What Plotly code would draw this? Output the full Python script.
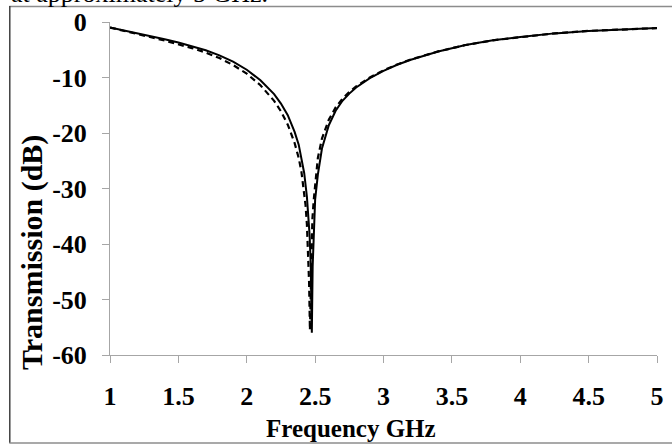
import plotly.graph_objects as go

# ---- data ----
freq_solid = [1.00, 1.10, 1.20, 1.30, 1.40, 1.50, 1.60, 1.70, 1.80, 1.90, 2.00, 2.10, 2.20, 2.25,
              2.30, 2.35, 2.38, 2.40, 2.42, 2.44, 2.45, 2.46, 2.468, 2.476, 2.482, 2.49, 2.50,
              2.52, 2.55, 2.60, 2.65, 2.70, 2.75, 2.80, 2.90, 3.00, 3.10, 3.20, 3.40, 3.60, 3.80,
              4.00, 4.25, 4.50, 4.75, 5.00]
trans_solid = [-1.0, -1.5, -2.0, -2.55, -3.1, -3.7, -4.35, -5.1, -6.0, -7.15, -8.6, -10.5, -13.0, -14.7,
               -16.8, -19.8, -22.1, -24.4, -27.2, -31.5, -34.5, -38.5, -44.0, -56.0, -44.0, -37.0, -32.0,
               -27.5, -22.8, -18.6, -16.0, -14.2, -12.9, -11.8, -10.1, -8.8, -7.7, -6.8, -5.3, -4.15, -3.3,
               -2.7, -2.05, -1.6, -1.3, -1.1]

freq_dashed = [1.00, 1.10, 1.20, 1.30, 1.40, 1.50, 1.60, 1.70, 1.80, 1.90, 2.00, 2.10, 2.20, 2.25,
               2.30, 2.35, 2.38, 2.40, 2.42, 2.43, 2.44, 2.45, 2.456, 2.462, 2.468, 2.475, 2.48,
               2.49, 2.50, 2.52, 2.55, 2.60, 2.65, 2.70, 2.75, 2.80, 2.90, 3.00, 3.10, 3.20, 3.40,
               3.60, 3.80, 4.00, 4.25, 4.50, 4.75, 5.00]
trans_dashed = [-1.0, -1.55, -2.15, -2.75, -3.35, -4.0, -4.7, -5.5, -6.5, -7.75, -9.3, -11.4, -14.2, -16.1,
                -18.5, -21.8, -24.5, -27.0, -30.5, -33.0, -36.5, -41.5, -47.0, -55.5, -46.0, -39.5, -35.5,
                -32.0, -29.0, -24.5, -21.0, -17.6, -15.4, -13.8, -12.6, -11.6, -10.0, -8.7, -7.65, -6.75, -5.3,
                -4.15, -3.3, -2.7, -2.05, -1.6, -1.3, -1.1]

x_tick_vals = [1, 1.5, 2, 2.5, 3, 3.5, 4, 4.5, 5]
x_tick_text = ["1", "1.5", "2", "2.5", "3", "3.5", "4", "4.5", "5"]
y_tick_vals = [0, -10, -20, -30, -40, -50, -60]
y_tick_text = ["0", "-10", "-20", "-30", "-40", "-50", "-60"]

x_title = "Frequency GHz"
y_title = "Transmission (dB)"
caption_fragment = "at approximately 5 GHz."

FONT = "Liberation Serif"
AXIS_GRAY = "#a6a6a6"

fig = go.Figure()
fig.add_trace(go.Scatter(x=freq_dashed, y=trans_dashed, mode="lines",
                         line=dict(color="black", width=2.2, dash="6px,4px"),
                         showlegend=False, hoverinfo="skip"))
fig.add_trace(go.Scatter(x=freq_solid, y=trans_solid, mode="lines",
                         line=dict(color="black", width=2),
                         showlegend=False, hoverinfo="skip"))

W, H = 672, 445
L, R, T, B = 110, 8, 22, 90
pw, ph = W - L - R, H - T - B

def px_x(p):
    return (p - L) / pw

def px_y(p):
    return (H - B - p) / ph

tick_font = dict(family=FONT, size=26, color="black", weight="bold")

fig.update_layout(
    width=W, height=H,
    margin=dict(l=L, r=R, t=T, b=B, pad=0),
    paper_bgcolor="white", plot_bgcolor="white",
    font=dict(family=FONT, color="black"),
    xaxis=dict(range=[1, 5], tickmode="array", tickvals=x_tick_vals, ticktext=x_tick_text,
               showgrid=False, zeroline=False, showline=True, linecolor=AXIS_GRAY, linewidth=1,
               ticks="outside", ticklen=7, tickcolor=AXIS_GRAY, tickwidth=1,
               ticklabelstandoff=11, tickfont=tick_font),
    yaxis=dict(range=[-60, 0], tickmode="array", tickvals=y_tick_vals, ticktext=y_tick_text,
               showgrid=False, zeroline=False, showline=True, linecolor=AXIS_GRAY, linewidth=1,
               ticks="outside", ticklen=7, tickcolor=AXIS_GRAY, tickwidth=1,
               ticklabelstandoff=10, tickfont=tick_font),
    shapes=[
        dict(type="line", xref="paper", yref="paper", x0=px_x(8), x1=px_x(680), y0=px_y(6.5), y1=px_y(6.5),
             line=dict(color="#8c8c8c", width=1.5)),
        dict(type="line", xref="paper", yref="paper", x0=px_x(8.5), x1=px_x(8.5), y0=px_y(6), y1=px_y(443),
             line=dict(color="#404040", width=1.5)),
        dict(type="line", xref="paper", yref="paper", x0=px_x(8), x1=px_x(680), y0=px_y(443), y1=px_y(443),
             line=dict(color="#8c8c8c", width=1.5)),
    ],
    annotations=[
        dict(text=x_title, xref="paper", yref="paper", x=px_x(354), y=px_y(428),
             xanchor="center", yanchor="middle", showarrow=False,
             font=dict(family=FONT, size=25, color="black", weight="bold")),
        dict(text=y_title, xref="paper", yref="paper", x=px_x(31), y=px_y(252),
             xanchor="center", yanchor="middle", showarrow=False, textangle=-90,
             font=dict(family=FONT, size=30, color="black", weight="bold")),
        dict(text=caption_fragment, xref="paper", yref="paper", x=px_x(8), y=px_y(-7),
             xanchor="left", yanchor="middle", showarrow=False,
             font=dict(family=FONT, size=26, color="black")),
    ],
)

fig.write_html("out.html")
